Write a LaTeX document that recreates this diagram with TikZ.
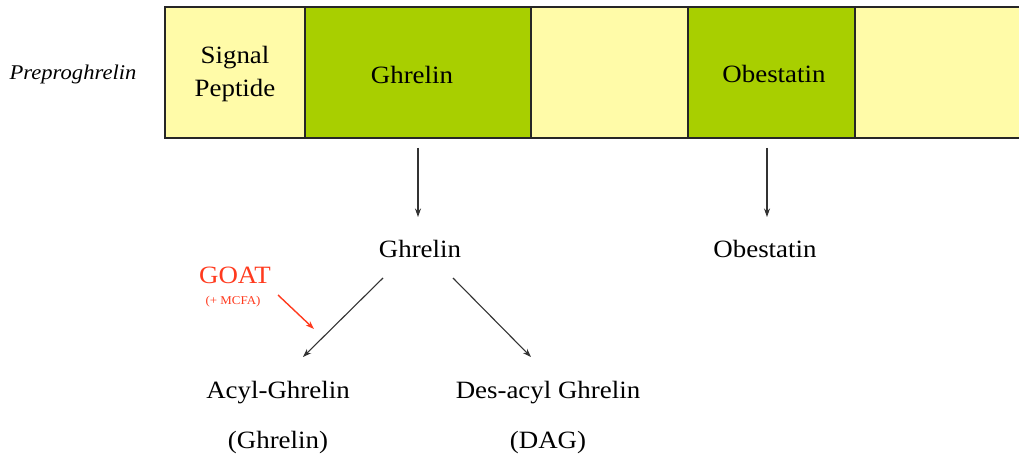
\documentclass[tikz,border=0pt]{standalone}
\usepackage{fontspec}
\setmainfont{Liberation Serif}[FakeStretch=1.08]
\usetikzlibrary{arrows.meta}
\definecolor{paleY}{HTML}{FFFBA8}
\definecolor{leaf}{HTML}{A8CF00}
\definecolor{goat}{HTML}{FF3A1E}
\begin{document}
\begin{tikzpicture}[x=1bp,y=-1bp,
  seg/.style={draw=black!85, line width=1.3bp, minimum height=131bp, inner sep=0, outer sep=0},
  lbl/.style={font=\fontsize{25}{34}\selectfont, anchor=base, inner sep=0, align=center},
  arr/.style={-{Stealth[length=8.5bp,width=6bp]}, draw=black!80, line width=1.1bp}]
\useasboundingbox (0,0) rectangle (1019,457);
\fill[white] (0,0) rectangle (1019,457);
% bar
\node[seg, fill=paleY, minimum width=140bp] (sig) at (235,72.5) {};
\node[seg, fill=leaf, minimum width=226bp] (gseg) at (418,72.5) {};
\node[seg, fill=paleY, minimum width=157bp] (mid) at (609.5,72.5) {};
\node[seg, fill=leaf, minimum width=167bp] (oseg) at (771.5,72.5) {};
\node[seg, fill=paleY, minimum width=180bp] (tail) at (945,72.5) {};
\node[lbl] (sigt) at (235,97) {Signal\\Peptide};
\node[lbl] (gsegt) at (412,84) {Ghrelin};
\node[lbl] (osegt) at (774,83) {Obestatin};
\node[font=\fontsize{21}{24}\selectfont\itshape, anchor=base, inner sep=0] (pre) at (73,80) {Preproghrelin};
% products
\node[lbl] (ghr) at (420,258) {Ghrelin};
\node[lbl] (obe) at (765,258) {Obestatin};
\node[lbl] (acyl) at (278,399) {Acyl-Ghrelin};
\node[lbl] (acyl2) at (278,448) {(Ghrelin)};
\node[lbl] (des) at (548,399) {Des-acyl Ghrelin};
\node[lbl] (des2) at (548,448) {(DAG)};
\node[lbl, text=goat] (goat) at (235,284) {GOAT};
\node[font=\fontsize{12}{14}\selectfont, anchor=base, inner sep=0, text=goat] (mcfa) at (233,305) {(+ MCFA)};
% connector ends
\coordinate (ga) at (418,148);
\coordinate (gb) at (418,217);
\coordinate (oa) at (767,148);
\coordinate (ob) at (767,217);
\coordinate (d1) at (383,278);
\coordinate (d2) at (303,357);
\coordinate (e1) at (453,278);
\coordinate (e2) at (531,357);
\coordinate (r1) at (278,295);
\coordinate (r2) at (314,329);
\draw[arr] (ga) -- (gb);
\draw[arr] (oa) -- (ob);
\draw[arr] (d1) -- (d2);
\draw[arr] (e1) -- (e2);
\draw[arr, draw=goat, line width=1.4bp] (r1) -- (r2);
\end{tikzpicture}
\end{document}
